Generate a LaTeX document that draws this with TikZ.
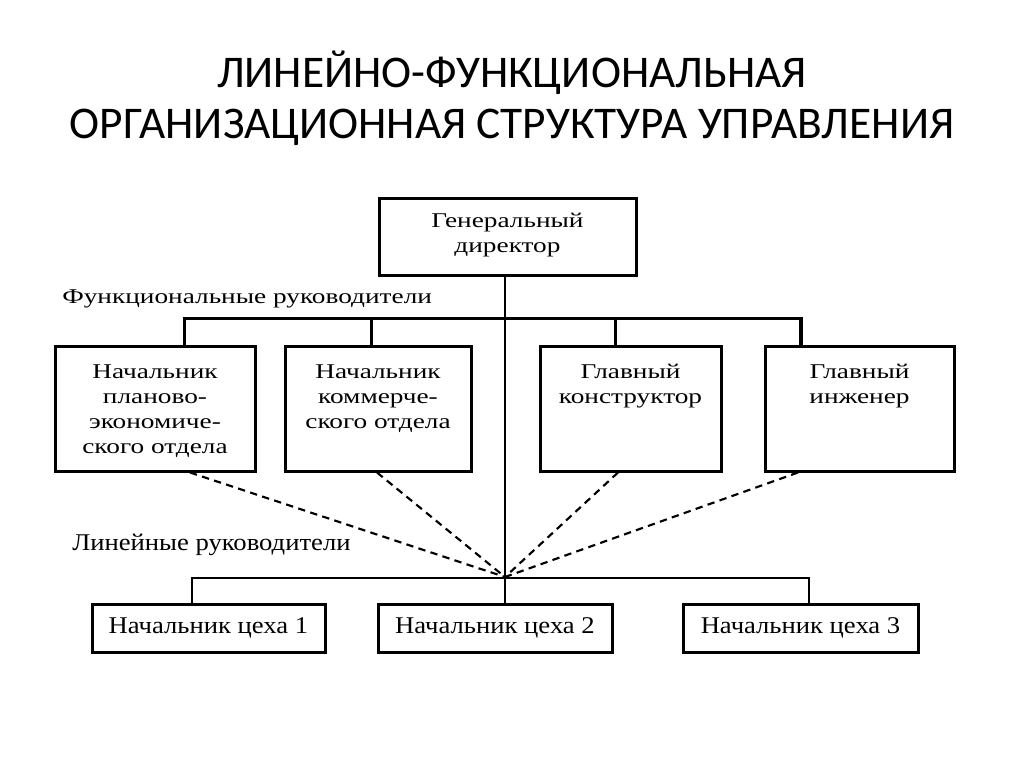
\documentclass[tikz,border=0pt]{standalone}
\usepackage{fontspec}
\setmainfont{Liberation Serif}
\newfontfamily\titlefont{Carlito}
\newfontfamily\wideserif[FakeStretch=1.3]{Liberation Serif}
\newfontfamily\lowserif[FakeStretch=1.11]{Liberation Serif}
\newdimen\pxu \pxu=0.75pt
\newcommand\topfont{\wideserif\fontsize{15.75}{18.75}\selectfont}
\newcommand\lowfont{\lowserif\fontsize{18}{21}\selectfont}
\newcommand\boxtext[4]{\parbox[c][#2\pxu][t]{#1\pxu}{\centering\rule{0pt}{#3\pxu}#4\par}}
\tikzset{
  box/.style={draw, line width=2.25pt, inner sep=0pt, font=\topfont},
  sbox/.style={draw, line width=2.25pt, inner sep=0pt, font=\lowfont,
    minimum width=#1*0.75pt, minimum height=36pt},
  bus/.style={line width=2.25pt},
  sbus/.style={line width=1.9pt},
  thinline/.style={line width=1.1pt},
  dashline/.style={line width=1.6pt, dash pattern=on 5.5pt off 4pt},
  titletext/.style={font=\titlefont\fontsize{34}{41}\selectfont, anchor=base, inner sep=0pt},
  labeltext/.style={anchor=base west, inner sep=0pt}
}
\begin{document}
\begin{tikzpicture}[x=0.75pt,y=-0.75pt]
\fill[white] (0,0) rectangle (1024,767);
\useasboundingbox (0,0) rectangle (1024,767);

\node[titletext] (t1) at (512,88) {ЛИНЕЙНО-ФУНКЦИОНАЛЬНАЯ};
\node[titletext] (t2) at (512,138) {ОРГАНИЗАЦИОННАЯ СТРУКТУРА УПРАВЛЕНИЯ};

\node[box] (gd) at (507.5,236.5) {\boxtext{257}{77}{29}{Генеральный\\директор}};

\node[labeltext, font=\topfont] (fl) at (62,303) {Функциональные руководители};

\node[box] (f1) at (155,408.5) {\boxtext{200}{125}{32}{Начальник\\планово-\\экономиче-\\ского отдела}};
\node[box] (f2) at (378,408.5) {\boxtext{186}{125}{32}{Начальник\\коммерче-\\ского отдела}};
\node[box] (f3) at (630.5,408.5) {\boxtext{181}{125}{32}{Главный\\конструктор}};
\node[box] (f4) at (859.5,408.5) {\boxtext{189}{125}{32}{Главный\\инженер}};

\node[labeltext, font=\lowfont] (ll) at (72,550) {Линейные руководители};

\node[sbox=233] (s1) at (208.5,628) {Начальник цеха 1};
\node[sbox=234] (s2) at (495,628) {Начальник цеха 2};
\node[sbox=235] (s3) at (800.5,628) {Начальник цеха 3};

% functional bus
\coordinate (fb1) at (184,318);
\coordinate (fb2) at (371,318);
\coordinate (fb3) at (615,318);
\coordinate (fb4) at (801,318);
\draw[bus] ([xshift=-1.1pt]fb1) -- ([xshift=1.5pt]fb4);
\draw[bus] (fb1) -- (fb1 |- f1.north);
\draw[bus] (fb2) -- (fb2 |- f2.north);
\draw[bus] (fb3) -- (fb3 |- f3.north);
\draw[line width=3pt] (fb4) -- (fb4 |- f4.north);

% central line
\coordinate (mid) at (505,577);
\draw[thinline] (gd.south -| mid) -- (s2.north -| mid);

% shops bus
\coordinate (sb1) at (192,578);
\coordinate (sb3) at (809,578);
\draw[sbus] ([xshift=-0.95pt]sb1) -- ([xshift=0.95pt]sb3);
\draw[sbus] (sb1) -- (sb1 |- s1.north);
\draw[sbus] (sb3) -- (sb3 |- s3.north);

% dashed functional links
\coordinate (x1) at (190,0);
\coordinate (x2) at (377,0);
\coordinate (x3) at (618,0);
\coordinate (x4) at (798,0);
\draw[dashline] (f1.south -| x1) -- (mid);
\draw[dashline] (f2.south -| x2) -- (mid);
\draw[dashline] (f3.south -| x3) -- (mid);
\draw[dashline] (f4.south -| x4) -- (mid);
\end{tikzpicture}
\end{document}
